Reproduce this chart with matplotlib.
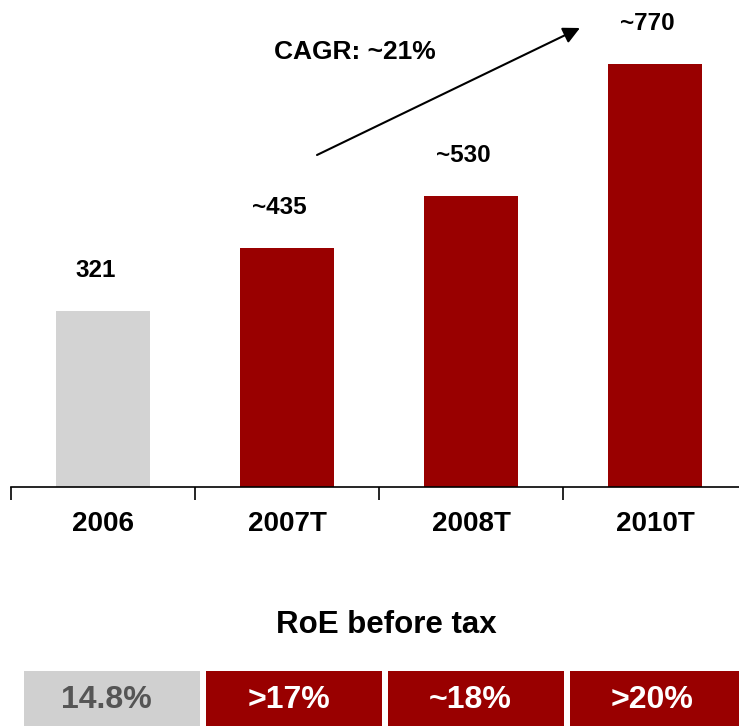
import matplotlib.pyplot as plt

plt.rcParams['font.family'] = ['Liberation Sans', 'DejaVu Sans']

# data
years = ['2006', '2007T', '2008T', '2010T']
income = [321, 435, 530, 770]
income_labels = ['321', '~435', '~530', '~770']
roe_labels = ['14.8%', '>17%', '~18%', '>20%']
cagr_text = 'CAGR: ~21%'

RED = '#990000'
GREY = '#D3D3D3'
bar_colors = [GREY, RED, RED, RED]
box_colors = ['#D0D0D0', RED, RED, RED]
box_text_colors = ['#555555', 'white', 'white', 'white']

W, H = 739, 726
fig = plt.figure(figsize=(W / 100, H / 100), dpi=100)

# main bar chart, pixel layout
ax_left, ax_right = 11, 747
ax_bottom, ax_top = 487, 0
YMAX = 887
ax = fig.add_axes([ax_left / W, (H - ax_bottom) / H,
                   (ax_right - ax_left) / W, (ax_bottom - ax_top) / H])
x = range(len(years))
ax.bar(x, income, width=0.51, color=bar_colors)
ax.set_xlim(-0.5, 3.5)
ax.set_ylim(0, YMAX)

for xi, v, lab in zip(x, income, income_labels):
    ax.annotate(lab, (xi - 0.04, v), xytext=(0, 29), textcoords='offset points',
                ha='center', va='center', fontsize=17.5, fontweight='bold')

for s in ['top', 'right', 'left']:
    ax.spines[s].set_visible(False)
ax.spines['bottom'].set_linewidth(1.2)
ax.set_yticks([])
ax.set_xticks(list(x))
ax.set_xticklabels(years, fontsize=20, fontweight='bold')
ax.tick_params(axis='x', which='major', length=0, pad=17)
ax.set_xticks([-0.5, 0.5, 1.5, 2.5], minor=True)
ax.tick_params(axis='x', which='minor', length=9, width=1.2, direction='out')

# CAGR arrow (pixel rows converted to data units)
def py(row):
    return YMAX * (ax_bottom - row) / (ax_bottom - ax_top)

ax.annotate('', xy=(2.592, py(28)), xytext=(1.163, py(155)),
            arrowprops=dict(arrowstyle='-|>,head_length=1.0,head_width=0.5',
                            color='black', lw=1.5, shrinkA=0, shrinkB=0))
ax.text(1.37, py(52), cagr_text, ha='center', va='center',
        fontsize=19, fontweight='bold')

# RoE title
fig.text(386 / W, 1 - 625 / H, 'RoE before tax', ha='center', va='center',
         fontsize=22.5, fontweight='bold')

# RoE boxes
bx_left, bx_right = 21, 749
by_top, by_bottom = 671, 726
ax2 = fig.add_axes([bx_left / W, (H - by_bottom) / H,
                    (bx_right - bx_left) / W, (by_bottom - by_top) / H])
ax2.bar(x, [1] * len(x), width=0.967, color=box_colors)
for xi, lab, c in zip(x, roe_labels, box_text_colors):
    ax2.text(xi - 0.03, 0.47, lab, ha='center', va='center', color=c,
             fontsize=23, fontweight='bold')
ax2.set_xlim(-0.5, 3.5)
ax2.set_ylim(0, 1)
ax2.axis('off')

fig.savefig('out.png', dpi=100)
